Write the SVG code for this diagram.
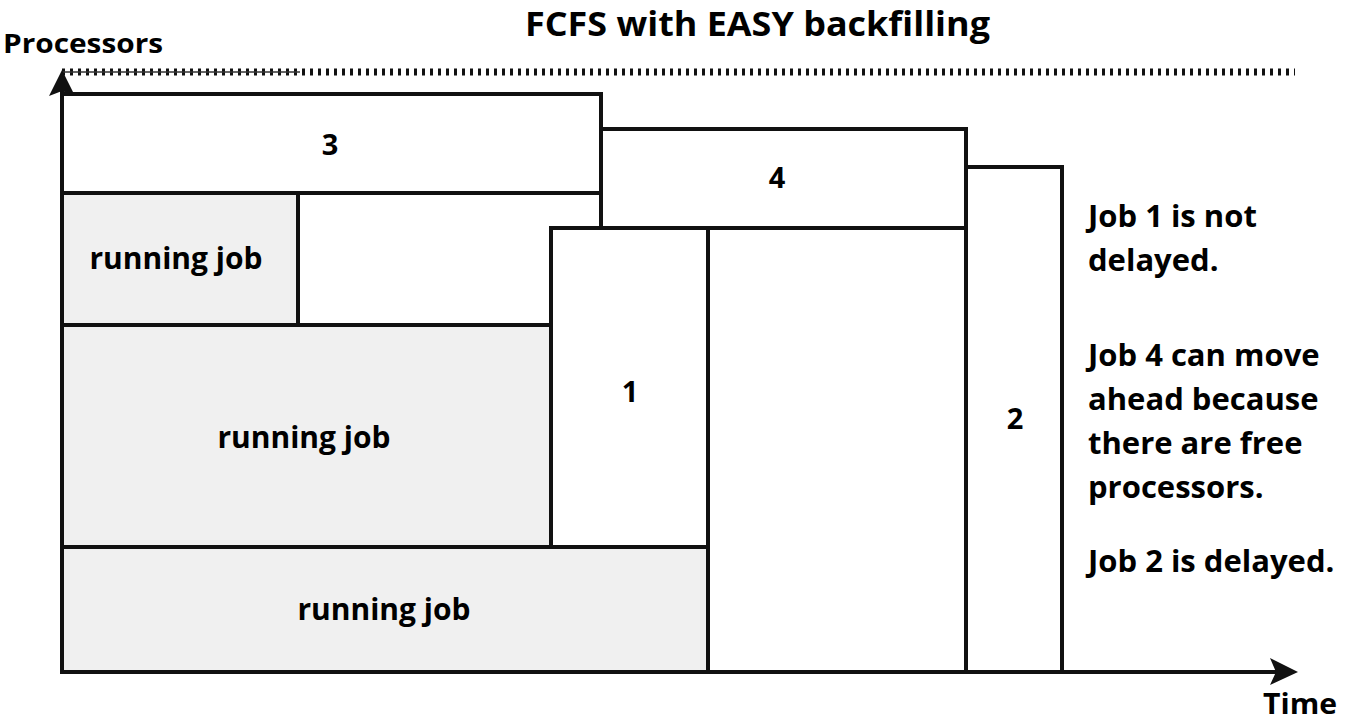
<svg xmlns="http://www.w3.org/2000/svg" width="1349" height="721" viewBox="0 0 1349 721">
<style>
text{font-family:"Open Sans","Noto Sans","DejaVu Sans",sans-serif;font-weight:700;fill:#000}
.box{stroke:#111;stroke-width:4;fill:#fff}
.run{stroke:#111;stroke-width:4;fill:#f0f0f0}
.lbl{font-size:30px;text-anchor:middle}
.num{font-size:29px;text-anchor:middle}
.note{font-size:31px}
.axis{stroke:#111;stroke-width:4;fill:none}
</style>
<rect width="1349" height="721" fill="#fff"/>
<text x="525" y="36" font-size="34" textLength="465" lengthAdjust="spacingAndGlyphs">FCFS with EASY backfilling</text>
<text x="3" y="53" font-size="27" textLength="160" lengthAdjust="spacingAndGlyphs">Processors</text>
<text x="1263" y="714" font-size="29" textLength="74" lengthAdjust="spacingAndGlyphs">Time</text>

<g id="free-area">
<rect class="box" x="298" y="193" width="303" height="132"/>
</g>
<g id="job3">
<rect class="box" x="62" y="94" width="539" height="99"/>
<text class="num" x="330" y="155">3</text>
</g>
<g id="job4">
<rect class="box" x="601" y="129" width="365" height="99"/>
<text class="num" x="777" y="188">4</text>
</g>
<g id="running1">
<rect class="run" x="62" y="193" width="236" height="132"/>
<text class="lbl" x="176" y="269">running job</text>
</g>
<g id="running2">
<rect class="run" x="62" y="325" width="489" height="222"/>
<text class="lbl" x="304" y="448">running job</text>
</g>
<g id="running3">
<rect class="run" x="62" y="547" width="646" height="125"/>
<text class="lbl" x="384" y="620">running job</text>
</g>
<g id="job1">
<rect class="box" x="551" y="228" width="157" height="319"/>
<text class="num" x="630" y="402">1</text>
</g>
<g id="free-right">
<rect class="box" x="708" y="228" width="258" height="444"/>
</g>
<g id="job2">
<rect class="box" x="966" y="167" width="96" height="505"/>
<text class="num" x="1015" y="429">2</text>
</g>

<g id="connectors">
<line x1="62" y1="72" x2="1295" y2="72" stroke="#111" stroke-width="7" stroke-dasharray="3 5"/>
<line x1="62" y1="72" x2="300" y2="72" stroke="#333" stroke-width="1.5"/>
<line class="axis" x1="62" y1="674" x2="62" y2="76"/>
<path d="M62,70 L75,96 L62,91 L49,96 Z" fill="#111"/>
<line class="axis" x1="60" y1="672" x2="1292" y2="672"/>
<path d="M1298,672 L1270,685 L1276,672 L1270,658 Z" fill="#111"/>
</g>

<g id="notes">
<text class="note" x="1088" y="227">Job 1 is not</text>
<text class="note" x="1088" y="271">delayed.</text>
<text class="note" x="1088" y="366">Job 4 can move</text>
<text class="note" x="1088" y="410">ahead because</text>
<text class="note" x="1088" y="454">there are free</text>
<text class="note" x="1088" y="498">processors.</text>
<text class="note" x="1088" y="572">Job 2 is delayed.</text>
</g>
</svg>
